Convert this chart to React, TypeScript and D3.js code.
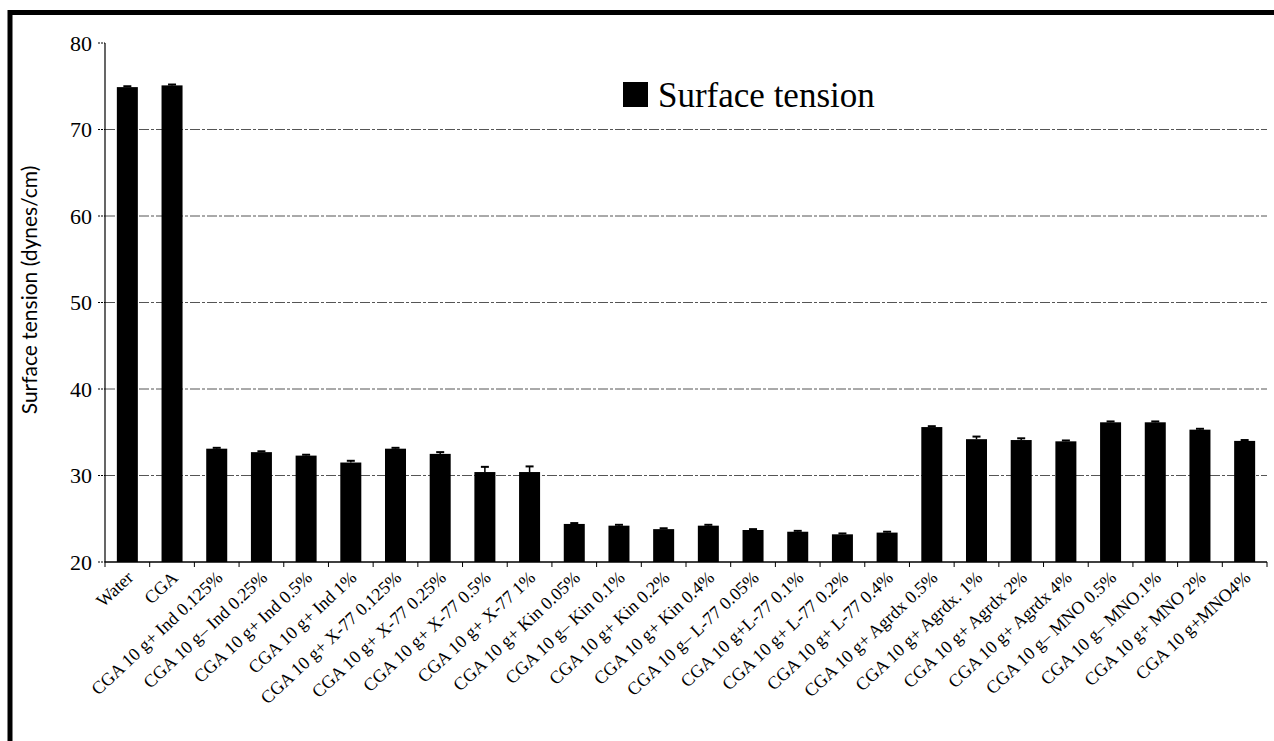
import * as d3 from 'd3';

const categories = [
  'Water',
  'CGA',
  'CGA 10 g+ Ind 0.125%',
  'CGA 10 g– Ind 0.25%',
  'CGA 10 g+ Ind 0.5%',
  'CGA 10 g+ Ind 1%',
  'CGA 10 g+ X-77 0.125%',
  'CGA 10 g+ X-77 0.25%',
  'CGA 10 g+ X-77 0.5%',
  'CGA 10 g+ X-77 1%',
  'CGA 10 g+ Kin 0.05%',
  'CGA 10 g– Kin 0.1%',
  'CGA 10 g+ Kin 0.2%',
  'CGA 10 g+ Kin 0.4%',
  'CGA 10 g– L-77 0.05%',
  'CGA 10 g+L-77 0.1%',
  'CGA 10 g+ L-77 0.2%',
  'CGA 10 g+ L-77 0.4%',
  'CGA 10 g+ Agrdx 0.5%',
  'CGA 10 g+ Agrdx. 1%',
  'CGA 10 g+ Agrdx 2%',
  'CGA 10 g+ Agrdx 4%',
  'CGA 10 g– MNO 0.5%',
  'CGA 10 g– MNO.1%',
  'CGA 10 g+ MNO 2%',
  'CGA 10 g+MNO4%',
];

const surfaceTension = [
  74.9, 75.1, 33.1, 32.7, 32.3, 31.5, 33.1, 32.5, 30.4, 30.4, 24.4, 24.2, 23.8,
  24.2, 23.7, 23.5, 23.2, 23.4, 35.6, 34.2, 34.1, 33.95, 36.15, 36.15, 35.3, 34.0,
];

const errors = [
  0.1, 0.1, 0.1, 0.1, 0.1, 0.2, 0.1, 0.2, 0.6, 0.65, 0.1, 0.1, 0.1, 0.1, 0.1,
  0.1, 0.1, 0.1, 0.1, 0.3, 0.2, 0.1, 0.1, 0.1, 0.1, 0.1,
];

const yTicks = [20, 30, 40, 50, 60, 70, 80];
const gridTicks = [30, 40, 50, 60, 70];

const seriesName = 'Surface tension';
const yTitle = 'Surface tension (dynes/cm)';

const W = 1274;
const H = 741;
const left = 105;
const right = 1267;
const top = 43;
const bottom = 562;
const serif = "'Liberation Serif', 'Times New Roman', serif";

export default function App() {
  const x = d3
    .scaleBand<string>()
    .domain(categories)
    .range([left, right])
    .paddingInner(0.53)
    .paddingOuter(0.265);
  const y = d3.scaleLinear().domain([20, 80]).range([bottom, top]);
  const bw = x.bandwidth();
  const step = x.step();

  return (
    <svg
      width={W}
      height={H}
      style={{ position: 'absolute', left: 0, top: 0, background: '#fff' }}
    >
      {/* frame (top and left edges visible) */}
      <path
        d={`M10,${H + 10} L10,12.5 L${W + 10},12.5`}
        fill="none"
        stroke="#000"
        strokeWidth={5}
      />

      {/* gridlines */}
      {gridTicks.map((t) => (
        <line
          key={'g' + t}
          x1={left}
          x2={right}
          y1={y(t)}
          y2={y(t)}
          stroke="#555"
          strokeWidth={1}
          strokeDasharray="10,2,3,2"
        />
      ))}

      {/* bars */}
      {categories.map((c, i) => (
        <rect
          key={c}
          x={x(c)}
          y={y(surfaceTension[i])}
          width={bw}
          height={bottom - y(surfaceTension[i])}
          fill="#000"
        />
      ))}

      {/* error bars */}
      {categories.map((c, i) => {
        const cx = (x(c) as number) + bw / 2;
        const y1 = y(surfaceTension[i]);
        const y2 = y(surfaceTension[i] + errors[i]);
        return (
          <g key={'e' + c} stroke="#000" strokeWidth={1.5}>
            <line x1={cx} x2={cx} y1={y1} y2={y2} />
            <line x1={cx - 4} x2={cx + 4} y1={y2} y2={y2} strokeWidth={2} />
          </g>
        );
      })}

      {/* y axis */}
      <line x1={left} x2={left} y1={top} y2={bottom} stroke="#000" strokeWidth={1.2} />
      {yTicks.map((t) => (
        <g key={'y' + t}>
          <line x1={left - 7} x2={left} y1={y(t)} y2={y(t)} stroke="#000" strokeWidth={1} strokeDasharray="2,1" />
          <text
            x={92}
            y={y(t)}
            dy="0.35em"
            textAnchor="end"
            fontFamily={serif}
            fontSize={22}
            fill="#000"
          >
            {t}
          </text>
        </g>
      ))}

      {/* x axis */}
      <line x1={left} x2={right} y1={bottom} y2={bottom} stroke="#000" strokeWidth={1.5} />
      {d3.range(categories.length + 1).map((i) => {
        const tx = left + x.paddingOuter() * step - (x.paddingInner() * step) / 2 + i * step;
        return (
          <line key={'xt' + i} x1={tx} x2={tx} y1={bottom} y2={bottom + 5} stroke="#000" strokeWidth={1} />
        );
      })}

      {/* x labels */}
      {categories.map((c) => {
        const cx = (x(c) as number) + bw / 2 + 7;
        const ly = bottom + 17;
        return (
          <text
            key={'l' + c}
            x={cx}
            y={ly}
            textAnchor="end"
            transform={`rotate(-43, ${cx}, ${ly})`}
            fontFamily={serif}
            fontSize={18}
            fill="#000"
          >
            {c}
          </text>
        );
      })}

      {/* y title */}
      <text
        transform={`translate(37, 290) rotate(-90)`}
        textAnchor="middle"
        fontFamily="Lato, 'Open Sans', sans-serif"
        fontSize={21}
        fill="#000"
      >
        {yTitle}
      </text>

      {/* legend */}
      <rect x={623} y={82} width={25} height={25} fill="#000" />
      <text x={658} y={107} fontFamily={serif} fontSize={35} fill="#000">
        {seriesName}
      </text>
    </svg>
  );
}
